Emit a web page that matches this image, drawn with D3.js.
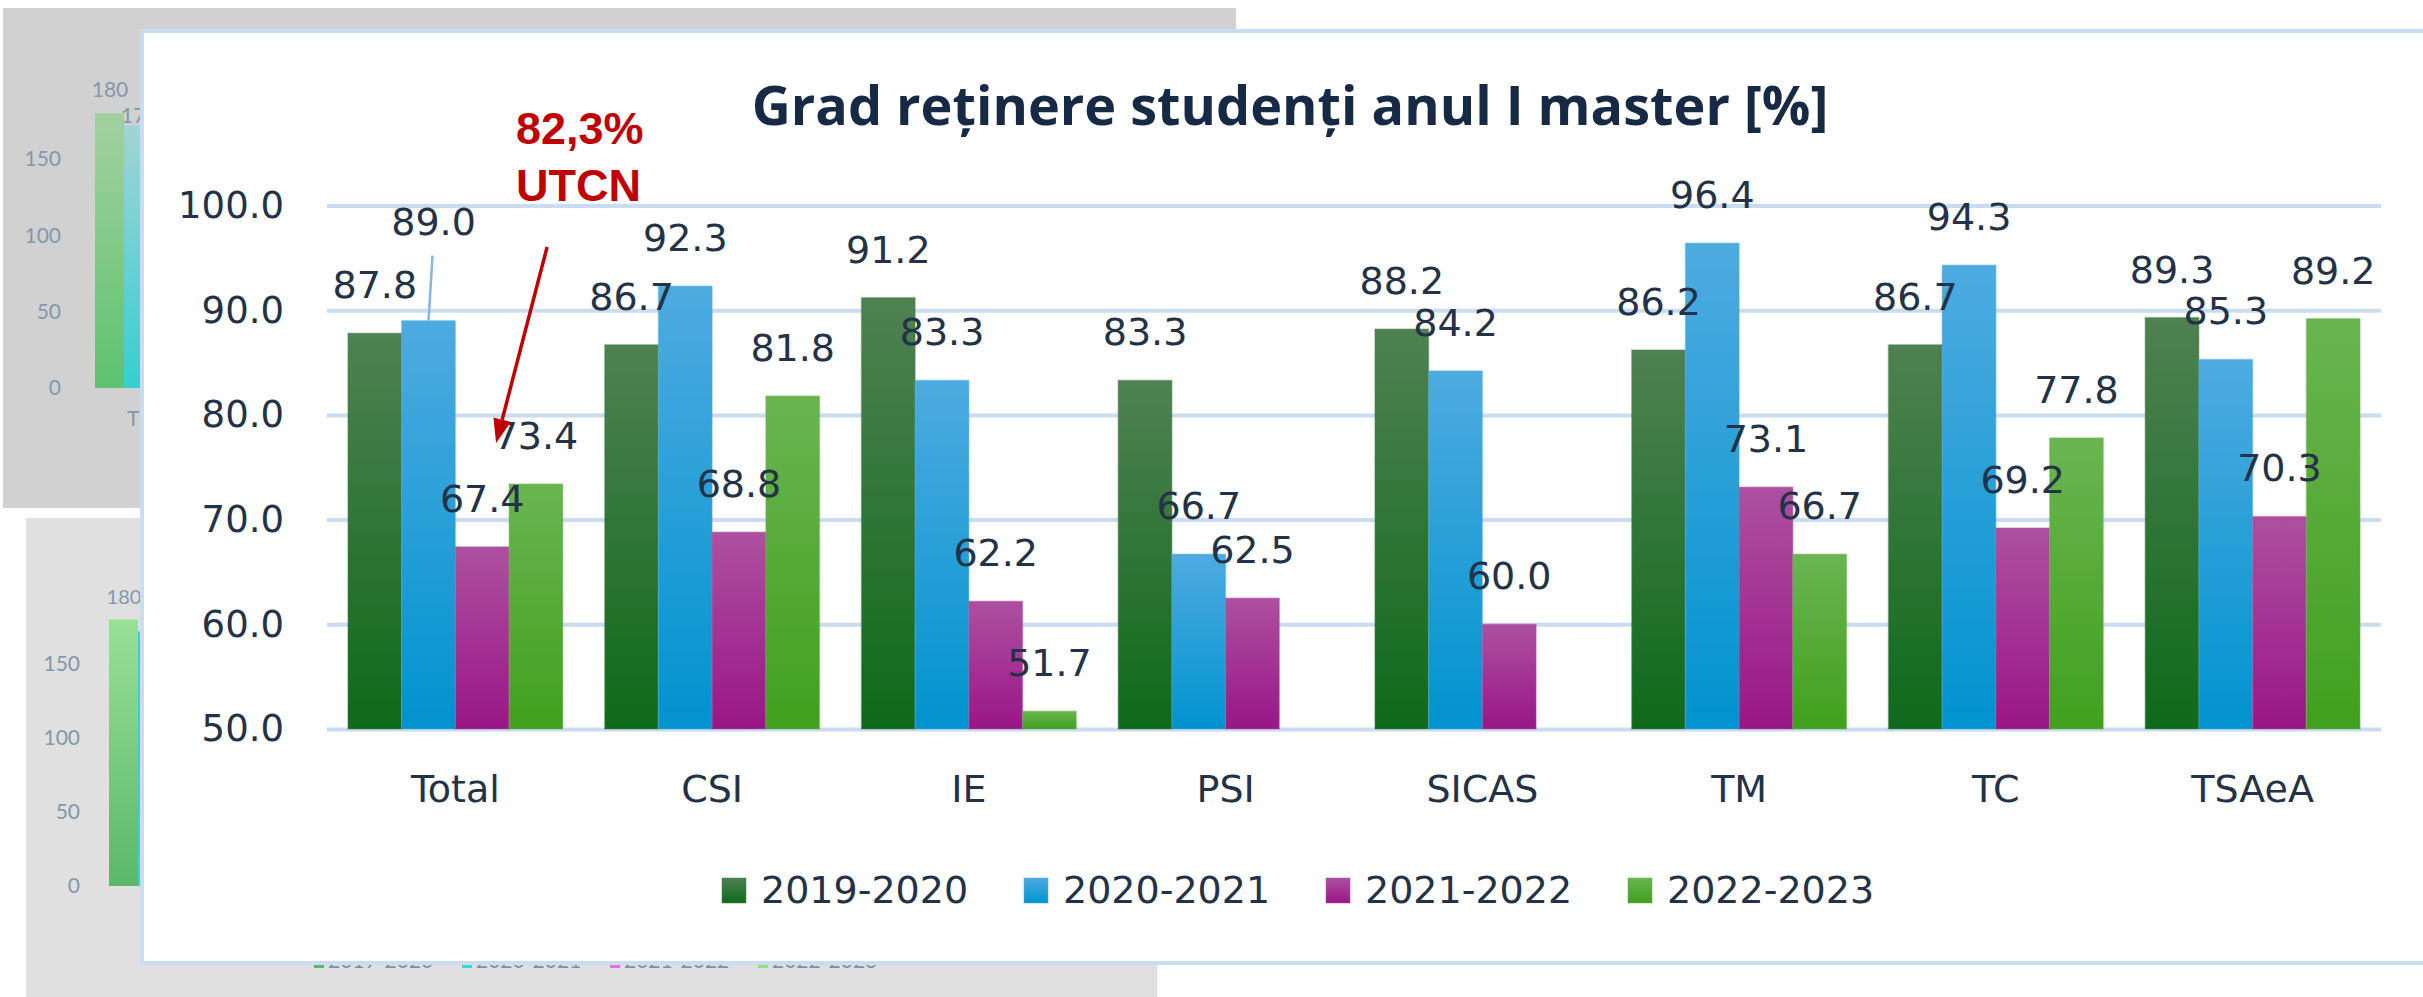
<!DOCTYPE html>
<html>
<head>
<meta charset="utf-8">
<script src="https://cdn.jsdelivr.net/npm/d3@7"></script>
<style>
  body { margin: 0; background: #ffffff; }
  svg { display: block; }
</style>
</head>
<body>
<svg id="canvas"></svg>
<script>
// chart data
let categories = ['Total', 'CSI', 'IE', 'PSI', 'SICAS', 'TM', 'TC', 'TSAeA'];
let years = ['2019-2020', '2020-2021', '2021-2022', '2022-2023'];
let v2019 = [87.8, 86.7, 91.2, 83.3, 88.2, 86.2, 86.7, 89.3];
let v2020 = [89.0, 92.3, 83.3, 66.7, 84.2, 96.4, 94.3, 85.3];
let v2021 = [67.4, 68.8, 62.2, 62.5, 60.0, 73.1, 69.2, 70.3];
let v2022 = [73.4, 81.8, 51.7, null, null, 66.7, 77.8, 89.2];
let yTicks = [50, 60, 70, 80, 90, 100];
let title = 'Grad reținere studenți anul I master [%]';
let noteLines = ['82,3%', 'UTCN'];

// the two slides peeking out behind the chart
let bgTicks = [0, 50, 100, 150];
let bgValues = [180, 172];
let bgLegend = ['2019-2020', '2020-2021', '2021-2022', '2022-2023'];

let width = 2423;
let height = 997;

let series = [v2019, v2020, v2021, v2022];
let topColors = ['#4f8152', '#4eabe0', '#ad50a0', '#6ab551'];
let bottomColors = ['#0e6a1a', '#0093cf', '#991687', '#41a01d'];
let textColor = '#233246';
let gridColor = '#c9dcf0';

let svg = d3.select('#canvas').attr('width', width).attr('height', height);
let defs = svg.append('defs');

let makeGradient = (id, top, bottom) => {
    let g = defs.append('linearGradient').attr('id', id)
        .attr('x1', 0).attr('y1', 0).attr('x2', 0).attr('y2', 1);
    g.append('stop').attr('offset', '0%').attr('stop-color', top);
    g.append('stop').attr('offset', '100%').attr('stop-color', bottom);
};
years.forEach((y, i) => makeGradient('grad' + i, topColors[i], bottomColors[i]));
makeGradient('bgGreen', '#a3d1a0', '#5cc36e');
makeGradient('bgCyan', '#a2d3d6', '#35cfcf');
makeGradient('bgGreen2', '#98e098', '#5bb86b');

/* background slides */
let drawBackground = () => {
    let bg = svg.append('g');
    bg.append('rect').attr('x', 3).attr('y', 8).attr('width', 1233).attr('height', 500).attr('fill', '#d1d1d1');
    bg.append('rect').attr('x', 26).attr('y', 518).attr('width', 1131).attr('height', 479).attr('fill', '#e0e0e0');

    let by1 = d3.scaleLinear().domain([0, 150]).range([388, 159]);
    let by2 = d3.scaleLinear().domain([0, 150]).range([886, 664]);

    bg.selectAll('.t1').data(bgTicks).enter().append('text')
        .attr('x', 61).attr('y', d => by1(d)).attr('dy', '0.35em')
        .attr('text-anchor', 'end').attr('font-family', 'Lato, sans-serif')
        .attr('font-size', 21).attr('fill', '#8299ab').text(d => d);
    bg.selectAll('.t2').data(bgTicks).enter().append('text')
        .attr('x', 80).attr('y', d => by2(d)).attr('dy', '0.35em')
        .attr('text-anchor', 'end').attr('font-family', '"Liberation Sans Narrow", Lato, sans-serif')
        .attr('font-size', 21).attr('fill', '#8299ab').text(d => d);

    bg.append('rect').attr('x', 95).attr('width', 29)
        .attr('y', by1(bgValues[0])).attr('height', by1(0) - by1(bgValues[0])).attr('fill', 'url(#bgGreen)');
    bg.append('rect').attr('x', 124).attr('width', 29)
        .attr('y', by1(bgValues[1])).attr('height', by1(0) - by1(bgValues[1])).attr('fill', 'url(#bgCyan)');
    bg.append('text').attr('x', 110).attr('y', by1(bgValues[0]) - 24).attr('dy', '0.35em')
        .attr('text-anchor', 'middle').attr('font-family', 'Lato, sans-serif').attr('font-size', 21)
        .attr('fill', '#8299ab').text(bgValues[0]);
    bg.append('text').attr('x', 121).attr('y', by1(bgValues[1]) - 10).attr('dy', '0.35em')
        .attr('font-family', 'Lato, sans-serif').attr('font-size', 21)
        .attr('fill', '#8299ab').text(bgValues[1]);
    bg.append('text').attr('x', 127).attr('y', 426)
        .attr('font-family', 'Lato, sans-serif').attr('font-size', 21)
        .attr('fill', '#8299ab').text('T');

    bg.append('rect').attr('x', 109).attr('width', 29)
        .attr('y', by2(bgValues[0])).attr('height', by2(0) - by2(bgValues[0])).attr('fill', 'url(#bgGreen2)');
    bg.append('rect').attr('x', 138).attr('width', 29)
        .attr('y', by2(bgValues[1])).attr('height', by2(0) - by2(bgValues[1])).attr('fill', '#38d0d0');
    bg.append('text').attr('x', 124).attr('y', by2(bgValues[0]) - 23).attr('dy', '0.35em')
        .attr('text-anchor', 'middle').attr('font-family', '"Liberation Sans Narrow", Lato, sans-serif').attr('font-size', 20)
        .attr('fill', '#8299ab').text(bgValues[0]);

    let legendColors = ['#5cb86c', '#3ad6d8', '#e070e0', '#92e07a'];
    let lg = bg.selectAll('.lg').data(bgLegend).enter().append('g')
        .attr('transform', (d, i) => 'translate(' + (314 + i * 148) + ',961)');
    lg.append('rect').attr('x', 0).attr('y', -3).attr('width', 10).attr('height', 10)
        .attr('fill', (d, i) => legendColors[i]);
    lg.append('text').attr('x', 14).attr('y', 0).attr('dy', '0.35em')
        .attr('font-family', 'Lato, sans-serif').attr('font-size', 21)
        .attr('fill', '#7e90a2').text(d => d);
};

/* main chart card */
let drawCard = () => {
    svg.append('rect').attr('x', 142).attr('y', 31).attr('width', 2400).attr('height', 932)
        .attr('fill', '#ffffff').attr('stroke', gridColor).attr('stroke-width', 4);
};

let xScale = d3.scaleBand().domain(categories).range([327, 2381]).paddingInner(0.163).paddingOuter(0.0815);
let xSub = d3.scaleBand().domain(years).range([0, xScale.bandwidth()]);
let yScale = d3.scaleLinear().domain([50, 100]).range([729, 205.5]);

let drawAxes = () => {
    let yAxis = d3.axisLeft(yScale).tickValues(yTicks).tickFormat(d3.format('.1f'))
        .tickSize(-(2381 - 327)).tickPadding(43);
    let ya = svg.append('g').attr('transform', 'translate(327,0)').call(yAxis);
    ya.select('.domain').remove();
    ya.selectAll('line').attr('stroke', gridColor).attr('stroke-width', 4);
    ya.selectAll('text').attr('font-family', '"DejaVu Sans", sans-serif')
        .attr('font-size', 37).attr('fill', textColor);

    let xAxis = d3.axisBottom(xScale).tickSize(0).tickPadding(46);
    let xa = svg.append('g').attr('transform', 'translate(0,729)').call(xAxis);
    xa.select('.domain').remove();
    xa.selectAll('text').attr('font-family', '"DejaVu Sans", sans-serif')
        .attr('font-size', 38).attr('fill', textColor);
};

let rows = [];
categories.forEach((c, ci) => {
    years.forEach((y, si) => {
        if (series[si][ci] != null) rows.push({cat: c, year: y, si: si, value: series[si][ci]});
    });
});

// labels moved by hand in the original
let nudge = {'Total|2020-2021': [5, -51]};

let drawBars = () => {
    let bars = svg.append('g');
    bars.selectAll('rect').data(rows).enter().append('rect')
        .attr('x', d => xScale(d.cat) + xSub(d.year))
        .attr('width', xSub.bandwidth())
        .attr('y', d => yScale(d.value))
        .attr('height', d => yScale(50) - yScale(d.value))
        .attr('fill', d => 'url(#grad' + d.si + ')')
        .attr('stroke', d => topColors[d.si]).attr('stroke-opacity', 0.35).attr('stroke-width', 1.5);

    // leader line of the moved label
    let lead = rows.find(d => d.cat === 'Total' && d.year === '2020-2021');
    let lx = xScale(lead.cat) + xSub(lead.year) + xSub.bandwidth() / 2;
    svg.append('line').attr('x1', lx).attr('y1', yScale(lead.value))
        .attr('x2', lx + 4).attr('y2', yScale(lead.value) - 65)
        .attr('stroke', '#86b8e6').attr('stroke-width', 2.5);

    svg.append('g').selectAll('text').data(rows).enter().append('text')
        .attr('x', d => xScale(d.cat) + xSub(d.year) + xSub.bandwidth() / 2 + (nudge[d.cat + '|' + d.year] || [0, 0])[0])
        .attr('y', d => yScale(d.value) - 35 + (nudge[d.cat + '|' + d.year] || [0, 0])[1])
        .attr('text-anchor', 'middle')
        .attr('font-family', '"DejaVu Sans", sans-serif').attr('font-size', 38)
        .attr('fill', textColor)
        .text(d => d3.format('.1f')(d.value));
};

let drawTitle = () => {
    svg.append('text').attr('x', 1290).attr('y', 125).attr('text-anchor', 'middle')
        .attr('font-family', '"Open Sans", sans-serif').attr('font-weight', 700)
        .attr('font-size', 54).attr('fill', '#172a45').text(title);
};

let drawLegend = () => {
    let lg = svg.append('g').selectAll('g').data(years).enter().append('g')
        .attr('transform', (d, i) => 'translate(' + (722 + i * 302) + ',903)');
    lg.append('rect').attr('x', 0).attr('y', -25).attr('width', 24).attr('height', 25)
        .attr('fill', (d, i) => 'url(#grad' + i + ')')
        .attr('stroke', (d, i) => topColors[i]).attr('stroke-opacity', 0.35).attr('stroke-width', 1.5);
    lg.append('text').attr('x', 39).attr('y', 0)
        .attr('font-family', '"DejaVu Sans", sans-serif').attr('font-size', 38)
        .attr('fill', textColor).text(d => d);
};

let drawNote = () => {
    let red = '#c00000';
    svg.append('g').selectAll('text').data(noteLines).enter().append('text')
        .attr('x', 516).attr('y', (d, i) => 144 + i * 57)
        .attr('font-family', '"Liberation Sans", Arial, sans-serif').attr('font-weight', 700)
        .attr('font-size', 45).attr('fill', red).text(d => d);

    // arrow pointing at the 2022-2023 Total label
    let tx = xScale('Total') + xSub('2022-2023') - 13;
    let ty = yScale(v2022[0]) - 41;
    let sx = tx + 51;
    let sy = ty - 196;
    let ang = Math.atan2(ty - sy, tx - sx);
    let hl = 24, hw = 9;
    let bx = tx - hl * Math.cos(ang), by = ty - hl * Math.sin(ang);
    svg.append('line').attr('x1', sx).attr('y1', sy).attr('x2', bx).attr('y2', by)
        .attr('stroke', red).attr('stroke-width', 3.5);
    svg.append('path')
        .attr('d', 'M' + tx + ',' + ty +
            'L' + (bx + hw * Math.sin(ang)) + ',' + (by - hw * Math.cos(ang)) +
            'L' + (bx - hw * Math.sin(ang)) + ',' + (by + hw * Math.cos(ang)) + 'Z')
        .attr('fill', red);
};

drawBackground();
drawCard();
drawTitle();
drawAxes();
drawBars();
drawLegend();
drawNote();
</script>
</body>
</html>
